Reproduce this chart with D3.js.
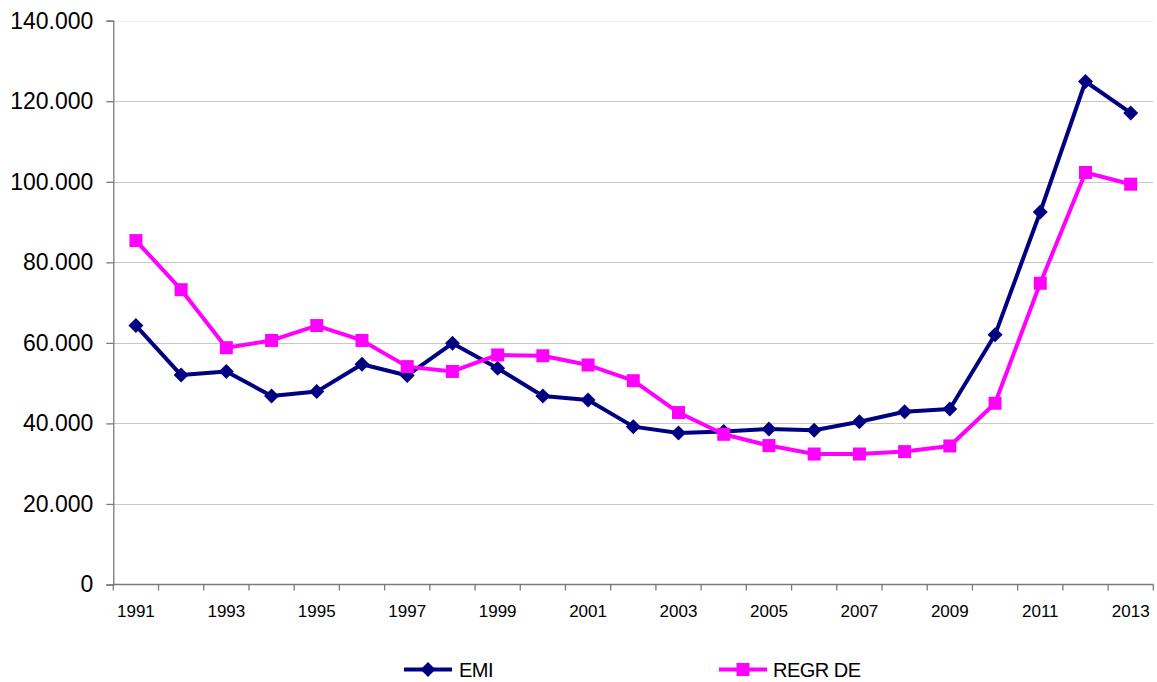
<!DOCTYPE html>
<html>
<head>
<meta charset="utf-8">
<script src="https://cdn.jsdelivr.net/npm/d3@7"></script>
<style>
  html, body { margin: 0; padding: 0; background: #fff; }
  svg { display: block; font-family: "Liberation Sans", Arial, sans-serif; }
</style>
</head>
<body>
<svg id="chart" width="1157" height="682"></svg>
<script>
// Years on the category axis
const years = [1991, 1992, 1993, 1994, 1995, 1996, 1997, 1998, 1999, 2000, 2001, 2002,
               2003, 2004, 2005, 2006, 2007, 2008, 2009, 2010, 2011, 2012, 2013];

// Series values
const emi = [64300, 52000, 52900, 46800, 47900, 54700, 51900, 59900, 53700, 46800, 45800, 39200,
             37600, 38000, 38600, 38300, 40400, 42900, 43600, 62000, 92500, 124900, 117100];
const regrDe = [85400, 73200, 58800, 60600, 64300, 60600, 54100, 52900, 57000, 56800, 54500, 50600,
                42700, 37300, 34500, 32400, 32400, 33000, 34400, 45000, 74800, 102300, 99400];

const seriesNames = ["EMI", "REGR DE"];
const yTicks = [0, 20000, 40000, 60000, 80000, 100000, 120000, 140000];

const seriesColors = ["#000080", "#ff00ff"];

const svg = d3.select("#chart");
const plot = { left: 113.3, right: 1153.3, top: 20.7, bottom: 584.5 };

const x = d3.scaleBand().domain(years).range([plot.left, plot.right]).padding(0);
const y = d3.scaleLinear().domain([0, 140000]).range([plot.bottom, plot.top]);

const it = d3.formatLocale({ decimal: ",", thousands: ".", grouping: [3], currency: ["", ""] });
const fmt = d3.format(",");
const fmtY = v => v === 0 ? "0" : it.format(",")(v);

// Horizontal gridlines
svg.append("g")
  .selectAll("line")
  .data(yTicks.filter(v => v > 0))
  .join("line")
  .attr("x1", plot.left).attr("x2", plot.right)
  .attr("y1", d => Math.round(y(d)) + 0.5).attr("y2", d => Math.round(y(d)) + 0.5)
  .attr("stroke", d => d === 140000 ? "#ededed" : "#c8c8c8")
  .attr("stroke-width", 1);

// Y axis
const yAxis = svg.append("g")
  .attr("transform", `translate(${plot.left},0)`)
  .call(d3.axisLeft(y).tickValues(yTicks).tickFormat(fmtY).tickSize(7).tickPadding(13));
yAxis.select(".domain").attr("stroke", "#7a7a7a").attr("stroke-width", 1.3);
yAxis.selectAll(".tick line").attr("stroke", "#7a7a7a").attr("stroke-width", 1.3);
yAxis.selectAll(".tick text")
  .attr("fill", "#000")
  .style("font-family", '"Liberation Sans", Arial, sans-serif')
  .style("font-size", "23px");

// X axis: line, ticks on category boundaries, labels on every other year
const xAxis = svg.append("g");
xAxis.append("line")
  .attr("x1", plot.left).attr("x2", plot.right)
  .attr("y1", y(0)).attr("y2", y(0))
  .attr("stroke", "#7a7a7a").attr("stroke-width", 1.3);
const boundaries = years.map(d => x(d)).concat([x(years[years.length - 1]) + x.bandwidth()]);
xAxis.selectAll("line.tick")
  .data(boundaries)
  .join("line")
  .attr("class", "tick")
  .attr("x1", d => d).attr("x2", d => d)
  .attr("y1", y(0)).attr("y2", y(0) + 6)
  .attr("stroke", "#7a7a7a").attr("stroke-width", 1.3);
xAxis.selectAll("text")
  .data(years.filter((d, i) => i % 2 === 0))
  .join("text")
  .attr("x", d => x(d) + x.bandwidth() / 2)
  .attr("y", 617)
  .attr("text-anchor", "middle")
  .attr("fill", "#000")
  .style("font-size", "17px")
  .text(d => d);

// Marker shapes
const diamond = "M0,-7.5L7.5,0L0,7.5L-7.5,0Z";
const square = "M-6.5,-6.5H6.5V6.5H-6.5Z";
const markers = [diamond, square];

const line = d3.line()
  .x((d, i) => x(years[i]) + x.bandwidth() / 2)
  .y(d => y(d));

[emi, regrDe].forEach((vals, si) => {
  const g = svg.append("g");
  g.append("path")
    .datum(vals)
    .attr("d", line)
    .attr("fill", "none")
    .attr("stroke", seriesColors[si])
    .attr("stroke-width", 4)
    .attr("stroke-linejoin", "round");
  g.selectAll("path.marker")
    .data(vals)
    .join("path")
    .attr("class", "marker")
    .attr("transform", (d, i) => `translate(${x(years[i]) + x.bandwidth() / 2},${y(d)})`)
    .attr("d", markers[si])
    .attr("fill", seriesColors[si]);
});

// Legend
const legendPos = [{ x1: 404, x2: 452, tx: 459 }, { x1: 719, x2: 767, tx: 773 }];
const legend = svg.append("g");
seriesNames.forEach((name, i) => {
  const p = legendPos[i];
  const ly = 669.5;
  legend.append("line")
    .attr("x1", p.x1).attr("x2", p.x2).attr("y1", ly).attr("y2", ly)
    .attr("stroke", seriesColors[i]).attr("stroke-width", 4);
  legend.append("path")
    .attr("transform", `translate(${(p.x1 + p.x2) / 2},${ly})`)
    .attr("d", markers[i])
    .attr("fill", seriesColors[i]);
  legend.append("text")
    .attr("x", p.tx).attr("y", 677)
    .attr("fill", "#000")
    .style("font-size", "20px")
    .style("letter-spacing", "-0.5px")
    .text(name);
});
</script>
</body>
</html>
